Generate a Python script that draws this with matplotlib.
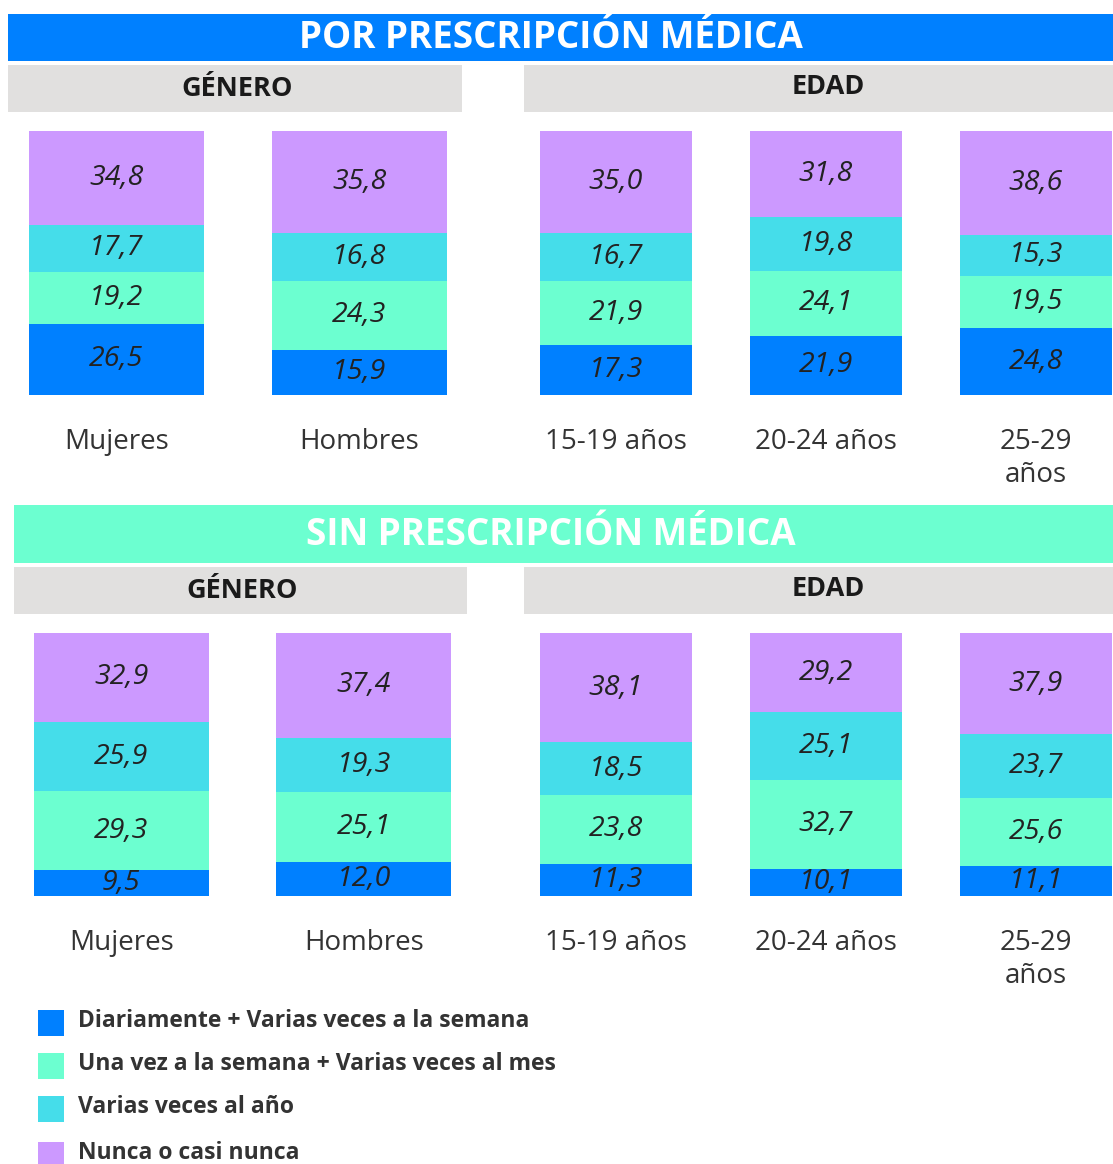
import matplotlib
matplotlib.use("Agg")
import matplotlib.pyplot as plt
from matplotlib.patches import Rectangle

# ---------------- data ----------------
gender_labels = ["Mujeres", "Hombres"]
age_labels = ["15-19 años", "20-24 años", "25-29\naños"]

series_names = [
    "Diariamente + Varias veces a la semana",
    "Una vez a la semana + Varias veces al mes",
    "Varias veces al año",
    "Nunca o casi nunca",
]

# Por prescripción médica: Mujeres, Hombres, 15-19, 20-24, 25-29
con_diario = [26.5, 15.9, 17.3, 21.9, 24.8]
con_semana = [19.2, 24.3, 21.9, 24.1, 19.5]
con_anio = [17.7, 16.8, 16.7, 19.8, 15.3]
con_nunca = [34.8, 35.8, 35.0, 31.8, 38.6]

# Sin prescripción médica
sin_diario = [9.5, 12.0, 11.3, 10.1, 11.1]
sin_semana = [29.3, 25.1, 23.8, 32.7, 25.6]
sin_anio = [25.9, 19.3, 18.5, 25.1, 23.7]
sin_nunca = [32.9, 37.4, 38.1, 29.2, 37.9]

BLUE = "#0080FF"
MINT = "#6CFFD0"
CYAN = "#45DDEA"
LILAC = "#CC99FF"
GRAY = "#E1E0DF"
colors = [BLUE, MINT, CYAN, LILAC]

W, H = 1113, 1164
plt.rcParams["font.family"] = ["Open Sans", "DejaVu Sans"]

fig = plt.figure(figsize=(W / 100, H / 100), dpi=100)


def rect(x0, y0, x1, y1, color):
    fig.patches.append(Rectangle((x0 / W, 1 - y1 / H), (x1 - x0) / W, (y1 - y0) / H,
                                 transform=fig.transFigure, facecolor=color,
                                 edgecolor="none", zorder=0))


def ftext(x, y, s, **kw):
    fig.text(x / W, 1 - y / H, s, ha="center", va="center", **kw)


def fmt(v):
    return f"{v:.1f}".replace(".", ",")


def group(x0, x1, y0, y1, labels, series, width):
    n = len(labels)
    ax = fig.add_axes([x0 / W, 1 - y1 / H, (x1 - x0) / W, (y1 - y0) / H])
    ax.set_xlim(-width / 2, n - 1 + width / 2)
    ax.set_ylim(0, 100)
    totals = [sum(vals) for vals in zip(*series)]
    bottoms = [0.0] * n
    xs = list(range(n))
    for vals, col in zip(series, colors):
        heights = [v / t * 100 for v, t in zip(vals, totals)]
        bars = ax.bar(xs, heights, width=width, bottom=bottoms, color=col, linewidth=0)
        ax.bar_label(bars, labels=[fmt(v) for v in vals], label_type="center",
                     fontsize=20.5, fontstyle="italic", fontweight="normal",
                     color="#222222")
        bottoms = [b + h for b, h in zip(bottoms, heights)]
    ax.set_xticks(xs)
    ax.set_xticklabels(labels, fontsize=20, fontweight="normal", color="#333333")
    for lbl in ax.get_xticklabels():
        lbl.set_linespacing(1.2)
    ax.tick_params(axis="x", length=0, pad=24)
    ax.set_yticks([])
    for s in ax.spines.values():
        s.set_visible(False)
    ax.patch.set_visible(False)
    return ax


def section(y_band, band_color, title, y_gray, gx, bar_top, bar_bottom, gender_x,
            data):
    rect(gx[0], y_band[0], 1113, y_band[1], band_color)
    ftext(551, (y_band[0] + y_band[1]) / 2 + 1, title, color="white",
          fontsize=26.5, fontweight="bold")
    rect(gx[0], y_gray[0], gx[1], y_gray[1], GRAY)
    rect(524, y_gray[0], 1113, y_gray[1], GRAY)
    ftext((gx[0] + gx[1]) / 2 + 2, (y_gray[0] + y_gray[1]) / 2 + 1, "GÉNERO",
          color="#1a1a1a", fontsize=19.5, fontweight="bold")
    ftext(828, (y_gray[0] + y_gray[1]) / 2 - 1, "EDAD",
          color="#1a1a1a", fontsize=19.5, fontweight="bold")
    g_series = [d[:2] for d in data]
    a_series = [d[2:] for d in data]
    group(gender_x[0], gender_x[1], bar_top, bar_bottom, gender_labels, g_series, 0.72)
    group(540, 1112, bar_top, bar_bottom, age_labels, a_series, 0.724)


section((14, 61), BLUE, "POR PRESCRIPCIÓN MÉDICA", (65, 112), (8, 462), 131, 395,
        (29, 447), [con_diario, con_semana, con_anio, con_nunca])
section((505, 563), MINT, "SIN PRESCRIPCIÓN MÉDICA", (567, 614), (14, 467), 633, 896,
        (34, 451), [sin_diario, sin_semana, sin_anio, sin_nunca])

# legend
leg_y = [1023, 1066, 1109, 1155]
for name, col, yy in zip(series_names, colors, leg_y):
    rect(38, yy - 13, 64, yy + 13, col)
    fig.text(78 / W, 1 - (yy - 2) / H, name, ha="left", va="center",
             fontsize=16.5, fontweight="bold", color="#333333")

fig.savefig("out.png", dpi=100)
